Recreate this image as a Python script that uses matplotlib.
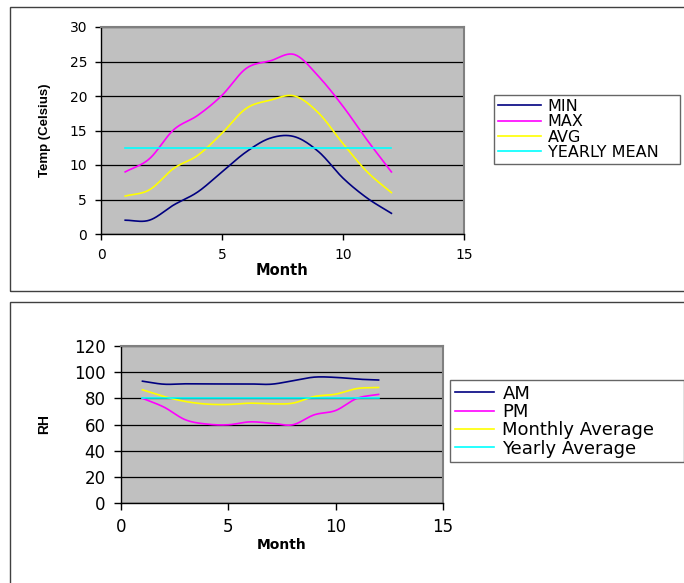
import numpy as np
import matplotlib
matplotlib.use("Agg")
import matplotlib.pyplot as plt
from matplotlib.patches import Rectangle

plt.rcParams['font.family'] = ['DejaVu Sans']

# ---------------- data ----------------
months = [1, 2, 3, 4, 5, 6, 7, 8, 9, 10, 11, 12]
temp_min = [2.0, 2.0, 4.2, 6.1, 9.0, 11.9, 13.9, 14.1, 11.9, 8.1, 5.2, 3.0]
temp_max = [9.0, 10.9, 15.1, 17.2, 20.1, 24.0, 25.1, 26.0, 22.8, 18.5, 13.6, 9.0]
temp_avg = [5.5, 6.4, 9.5, 11.4, 14.6, 18.2, 19.4, 20.0, 17.5, 13.1, 9.0, 6.0]
temp_yearly = [12.5] * 12

rh_am = [93.1, 90.8, 91.1, 91.0, 91.0, 91.0, 90.8, 93.4, 96.2, 96.0, 94.7, 94.0]
rh_pm = [80.0, 73.3, 63.6, 60.3, 59.8, 62.0, 61.0, 59.8, 67.4, 70.7, 80.0, 83.0]
rh_avg = [86.5, 81.4, 77.6, 75.6, 75.3, 76.3, 75.8, 76.3, 81.4, 83.2, 87.5, 88.3]
rh_yearly = [80.4] * 12

temp_labels = ["MIN", "MAX", "AVG", "YEARLY MEAN"]
rh_labels = ["AM", "PM", "Monthly Average", "Yearly Average"]
colors = ["#000080", "#FF00FF", "#FFFF00", "#00FFFF"]


def smooth(x, y, n=20):
    """Catmull-Rom rendering of a smoothed line (like Excel's smoothed lines)."""
    x = np.asarray(x, float)
    y = np.asarray(y, float)
    px = np.concatenate([[2 * x[0] - x[1]], x, [2 * x[-1] - x[-2]]])
    py = np.concatenate([[2 * y[0] - y[1]], y, [2 * y[-1] - y[-2]]])
    xs, ys = [], []
    t = np.linspace(0, 1, n, endpoint=False)
    for i in range(1, len(px) - 2):
        for p, out in ((px, xs), (py, ys)):
            p0, p1, p2, p3 = p[i - 1], p[i], p[i + 1], p[i + 2]
            out.extend(0.5 * ((2 * p1) + (-p0 + p2) * t
                              + (2 * p0 - 5 * p1 + 4 * p2 - p3) * t ** 2
                              + (-p0 + 3 * p1 - 3 * p2 + p3) * t ** 3))
    xs.append(x[-1])
    ys.append(y[-1])
    return np.array(xs), np.array(ys)


W, H = 684, 583
fig = plt.figure(figsize=(W / 100, H / 100), dpi=100)
fig.patch.set_facecolor("white")


def fx(px):
    return px / W


def fy(py):
    return 1 - py / H


# outer frames
fig.patches.append(Rectangle((fx(10), fy(291)), fx(700) - fx(10), fy(7) - fy(291),
                             transform=fig.transFigure, fill=False,
                             edgecolor="#404040", linewidth=1.0))
fig.patches.append(Rectangle((fx(10), fy(620)), fx(700) - fx(10), fy(302) - fy(620),
                             transform=fig.transFigure, fill=False,
                             edgecolor="#404040", linewidth=1.0))


def style_axes(ax, ymax, ystep, fs):
    ax.set_facecolor("#C0C0C0")
    ax.set_xlim(0, 15)
    ax.set_ylim(0, ymax)
    ax.set_xticks([0, 5, 10, 15])
    ax.set_yticks(np.arange(0, ymax + 1, ystep))
    ax.yaxis.grid(True, color="black", linewidth=0.9)
    ax.set_axisbelow(True)
    for s in ("top", "right"):
        ax.spines[s].set_color("#808080")
        ax.spines[s].set_linewidth(1.5)
    for s in ("left", "bottom"):
        ax.spines[s].set_color("black")
        ax.spines[s].set_linewidth(1.0)
    ax.tick_params(direction="out", length=4, width=1, labelsize=fs, pad=6)


def make_legend(ax, x0, y0, x1, y1, fs, hl, htp):
    leg = ax.legend(loc="upper left",
                    bbox_to_anchor=(fx(x0), fy(y1), fx(x1) - fx(x0), fy(y0) - fy(y1)),
                    bbox_transform=fig.transFigure, mode="expand",
                    frameon=True, fancybox=False, edgecolor="#404040",
                    fontsize=fs, handlelength=hl, handletextpad=htp,
                    labelspacing=0.02, borderpad=0.25, borderaxespad=0)
    leg.get_frame().set_linewidth(1.0)
    return leg


# ---------------- top chart ----------------
ax1 = fig.add_axes([fx(101), fy(234), fx(464) - fx(101), fy(27) - fy(234)])
style_axes(ax1, 30, 5, 10)
for ys, lab, c in zip([temp_min, temp_max, temp_avg, temp_yearly], temp_labels, colors):
    sx, sy = smooth(months, ys)
    ax1.plot(sx, sy, color=c, linewidth=1.2, label=lab)
ax1.set_xlabel("Month", fontsize=10.5, fontweight="bold")
ax1.xaxis.set_label_coords((282 - 101) / 363, (234 - 263) / 207)
ax1.set_ylabel("Temp (Celsius)", fontsize=9.5, fontweight="bold",
               family=["Liberation Sans Narrow", "Liberation Sans", "DejaVu Sans"])
ax1.yaxis.set_label_coords((51 - 101) / 363, 0.5)
make_legend(ax1, 494, 95, 680, 166, 11.5, 2.7, 0.4)

# ---------------- bottom chart ----------------
ax2 = fig.add_axes([fx(121), fy(503), fx(443) - fx(121), fy(346) - fy(503)])
style_axes(ax2, 120, 20, 12)
ax2.tick_params(length=5)
for ys, lab, c in zip([rh_am, rh_pm, rh_avg, rh_yearly], rh_labels, colors):
    sx, sy = smooth(months, ys)
    ax2.plot(sx, sy, color=c, linewidth=1.2, label=lab)
ax2.set_xlabel("Month", fontsize=10, fontweight="bold")
ax2.xaxis.set_label_coords((282 - 121) / 322, (503 - 538) / 157)
ax2.set_ylabel("RH", fontsize=10, fontweight="bold",
               family=["Liberation Sans Narrow", "Liberation Sans", "DejaVu Sans"])
ax2.yaxis.set_label_coords((51 - 121) / 322, 0.5)
make_legend(ax2, 450, 380, 684, 462, 13, 2.2, 0.45)

fig.savefig("out.png", dpi=100)
